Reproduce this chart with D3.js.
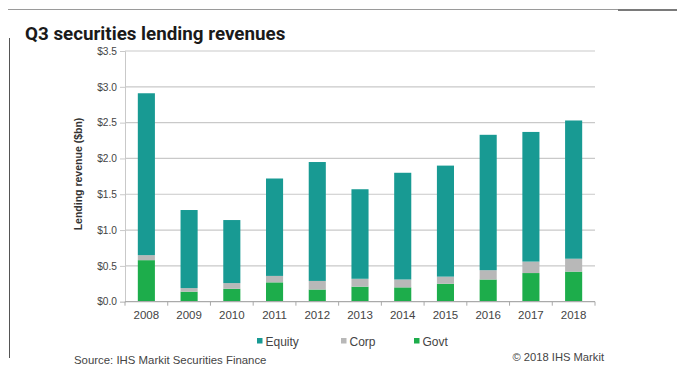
<!DOCTYPE html>
<html>
<head>
<meta charset="utf-8">
<script src="https://cdn.jsdelivr.net/npm/d3@7"></script>
<style>
  html, body { margin: 0; padding: 0; background: #fff; }
  svg { display: block; }
</style>
</head>
<body>
<svg id="chart" width="677" height="366"></svg>
<script>
// Q3 securities lending revenues by asset class, $bn
const years  = ["2008","2009","2010","2011","2012","2013","2014","2015","2016","2017","2018"];
const govt   = [0.58, 0.14, 0.18, 0.27, 0.17, 0.21, 0.20, 0.25, 0.31, 0.40, 0.42];
const corp   = [0.07, 0.05, 0.08, 0.09, 0.12, 0.11, 0.11, 0.10, 0.13, 0.16, 0.18];
const equity = [2.26, 1.09, 0.88, 1.36, 1.66, 1.25, 1.49, 1.55, 1.89, 1.81, 1.93];
const yTicks = [0, 0.5, 1.0, 1.5, 2.0, 2.5, 3.0, 3.5];
const seriesNames = ["Govt", "Corp", "Equity"];
const legendOrder = ["Equity", "Corp", "Govt"];
const colors = { Equity: "#189a93", Corp: "#b8b8b8", Govt: "#1dad4b" };

const svg = d3.select("#chart");
const plot = { left: 125, right: 595, top: 51, bottom: 301.7 };

// frame lines around the panel
svg.append("line").attr("x1", 8).attr("x2", 677).attr("y1", 9.5).attr("y2", 9.5)
  .attr("stroke", "#9a9a9a").attr("stroke-width", 1);
svg.append("line").attr("x1", 618).attr("x2", 677).attr("y1", 10).attr("y2", 10)
  .attr("stroke", "#7a7a7a").attr("stroke-width", 2);
svg.append("line").attr("x1", 9.5).attr("x2", 9.5).attr("y1", 38).attr("y2", 358)
  .attr("stroke", "#555").attr("stroke-width", 1);

svg.append("text").attr("x", 25).attr("y", 40)
  .attr("font-family", "Roboto, 'Open Sans', sans-serif").attr("font-weight", 700)
  .attr("font-size", 18.8).attr("fill", "#1a1a1a")
  .text("Q3 securities lending revenues");

const table = years.map((y, i) => ({ year: y, Govt: govt[i], Corp: corp[i], Equity: equity[i] }));
const stacked = d3.stack().keys(seriesNames)(table);

const x = d3.scaleBand().domain(years).range([plot.left, plot.right]).paddingInner(0.6).paddingOuter(0.3);
const y = d3.scaleLinear().domain([0, 3.5]).range([plot.bottom, plot.top]);

const fontAxis = "'Liberation Sans', Arial, sans-serif";

// gridlines
svg.append("g").selectAll("line").data(yTicks.filter(d => d > 0)).join("line")
  .attr("x1", plot.left).attr("x2", plot.right)
  .attr("y1", d => y(d)).attr("y2", d => y(d))
  .attr("stroke", "#c9c9c9").attr("stroke-width", 1.2);

// y axis
const yAxis = svg.append("g").attr("transform", `translate(${plot.left},0)`)
  .call(d3.axisLeft(y).tickValues(yTicks).tickSize(5).tickPadding(3)
    .tickFormat(d => "$" + d3.format(".1f")(d)));
yAxis.select(".domain").attr("stroke", "#c9c9c9");
yAxis.selectAll(".tick line").attr("stroke", "#c9c9c9");
yAxis.selectAll("text").attr("font-family", fontAxis).attr("font-size", 10.2)
  .attr("fill", "#444");

// bars
svg.append("g").selectAll("g").data(stacked).join("g")
  .attr("fill", d => colors[d.key])
  .selectAll("rect").data(d => d).join("rect")
  .attr("x", d => x(d.data.year))
  .attr("width", x.bandwidth())
  .attr("y", d => y(d[1]))
  .attr("height", d => y(d[0]) - y(d[1]));

// x axis with ticks on category boundaries
const xAxisG = svg.append("g").attr("transform", `translate(0,${plot.bottom})`);
xAxisG.append("line").attr("x1", plot.left).attr("x2", plot.right)
  .attr("stroke", "#aaa").attr("stroke-width", 1.2);
const step = (plot.right - plot.left) / years.length;
xAxisG.selectAll("line.b").data(d3.range(years.length + 1)).join("line")
  .attr("class", "b")
  .attr("x1", i => plot.left + i * step).attr("x2", i => plot.left + i * step)
  .attr("y1", 0).attr("y2", 4).attr("stroke", "#aaa");
xAxisG.selectAll("text").data(years).join("text")
  .attr("x", d => x(d) + x.bandwidth() / 2).attr("y", 17)
  .attr("text-anchor", "middle")
  .attr("font-family", fontAxis).attr("font-size", 11.5).attr("fill", "#444")
  .text(d => d);

// y axis title
svg.append("text")
  .attr("transform", `translate(82,174) rotate(-90)`)
  .attr("text-anchor", "middle")
  .attr("font-family", fontAxis).attr("font-weight", 700).attr("font-size", 10.5)
  .attr("fill", "#333")
  .text("Lending revenue ($bn)");

// legend
const legendX = { Equity: 257, Corp: 341, Govt: 414 };
const lg = svg.append("g").selectAll("g").data(legendOrder).join("g")
  .attr("transform", d => `translate(${legendX[d]},341)`);
lg.append("rect").attr("x", 0).attr("y", -3).attr("width", 5.5).attr("height", 5.5)
  .attr("fill", d => colors[d]);
lg.append("text").attr("x", 8.5).attr("y", 4.5)
  .attr("font-family", fontAxis).attr("font-size", 12).attr("fill", "#444")
  .text(d => d);

// footer
svg.append("text").attr("x", 74).attr("y", 364)
  .attr("font-family", fontAxis).attr("font-size", 11.4).attr("fill", "#444")
  .text("Source: IHS Markit Securities Finance");
svg.append("text").attr("x", 604).attr("y", 361).attr("text-anchor", "end")
  .attr("font-family", fontAxis).attr("font-size", 11.2).attr("fill", "#444")
  .text("© 2018 IHS Markit");
</script>
</body>
</html>
